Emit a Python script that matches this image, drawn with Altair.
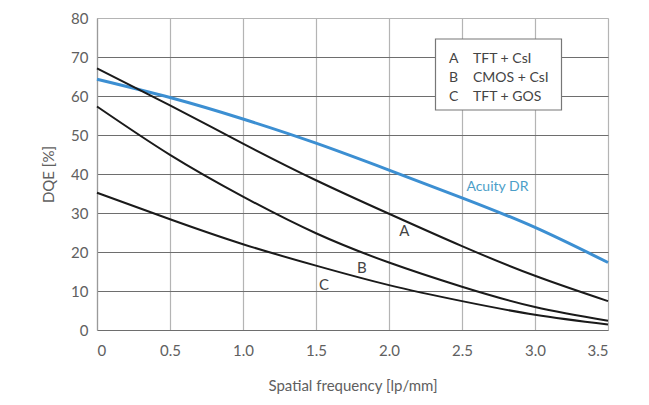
import altair as alt
import pandas as pd

freq = [0, 0.5, 1.0, 1.5, 2.0, 2.5, 3.0, 3.5]
acuity = [64.3, 59.6, 54.1, 47.9, 41.0, 33.9, 26.3, 17.3]
tft_csi = [67.1, 57.6, 47.8, 38.4, 29.8, 21.5, 13.9, 7.4]
cmos_csi = [57.3, 44.9, 34.2, 24.8, 17.3, 11.1, 5.9, 2.4]
tft_gos = [35.2, 28.4, 22.0, 16.5, 11.5, 7.4, 3.9, 1.4]

series_names = ["Acuity DR", "A", "B", "C"]
series_values = [acuity, tft_csi, cmos_csi, tft_gos]
series_colors = ["#3c8fd2", "#1a1a1a", "#1a1a1a", "#1a1a1a"]
series_widths = [3, 2, 2, 2]

label_text = ["Acuity DR", "A", "B", "C"]
label_x = [2.53, 2.07, 1.78, 1.52]
label_y = [36.6, 25.3, 16.0, 11.6]
label_color = ["#4b9ec8", "#444444", "#444444", "#444444"]
label_size = [14, 15, 15, 15]

legend_keys = ["A", "B", "C"]
legend_names = ["TFT + CsI", "CMOS + CsI", "TFT + GOS"]

FONT = "Lato"

rows = []
for n, vals in zip(series_names, series_values):
    for f, v in zip(freq, vals):
        rows.append({"series": n, "freq": f, "dqe": v})
df = pd.DataFrame(rows)

xscale = alt.Scale(domain=[0, 3.5], nice=False, zero=False)
yscale = alt.Scale(domain=[0, 80], nice=False)

x_enc = alt.X(
    "freq:Q", scale=xscale,
    axis=alt.Axis(
        values=[0, 0.5, 1, 1.5, 2, 2.5, 3, 3.5],
        labelExpr="datum.value == 0 ? '0' : format(datum.value, '.1f')",
        title="Spatial frequency [lp/mm]",
        grid=True, gridColor="#b4b4b4", gridWidth=1.2,
        ticks=False, domain=False, labelOverlap=False,
        labelFont=FONT, labelFontSize=15, labelColor="#606060",
        labelPadding=13,
        titleFont=FONT, titleFontSize=15, titleFontWeight="normal", titleColor="#606060",
        titlePadding=20,
    ),
)
y_enc = alt.Y(
    "dqe:Q", scale=yscale,
    axis=alt.Axis(
        values=list(range(0, 81, 10)),
        title="DQE [%]",
        grid=True,
        gridColor={"condition": {"test": "datum.value == 80", "value": "#b4b4b4"}, "value": "#6e6e6e"},
        gridWidth=1.2,
        ticks=False, domain=True, domainColor="#9a9a9a", domainWidth=1.2,
        labelOverlap=False,
        labelFont=FONT, labelFontSize=15, labelColor="#606060",
        labelPadding=9,
        titleFont=FONT, titleFontSize=15, titleFontWeight="normal", titleColor="#606060",
        titlePadding=14,
    ),
)

layers = []
for n, c, w in zip(series_names, series_colors, series_widths):
    layers.append(
        alt.Chart(df[df.series == n]).mark_line(
            color=c, strokeWidth=w, interpolate="natural"
        ).encode(x=x_enc, y=y_enc)
    )

for t, lx, ly, c, s in zip(label_text, label_x, label_y, label_color, label_size):
    layers.append(
        alt.Chart(pd.DataFrame({"t": [t], "freq": [lx], "dqe": [ly]})).mark_text(
            align="left", baseline="middle", font=FONT, fontSize=s, color=c
        ).encode(x=x_enc, y=y_enc, text="t:N")
    )

# legend box (pixel positions inside plot area)
layers.append(
    alt.Chart(pd.DataFrame({"k": [0]})).mark_rect(
        fill="white", stroke="#777777", strokeWidth=1.2
    ).encode(x=alt.value(338.5), x2=alt.value(464.5), y=alt.value(21), y2=alt.value(92))
)
for i, (k, nme) in enumerate(zip(legend_keys, legend_names)):
    yy = 40.5 + i * 19
    layers.append(
        alt.Chart(pd.DataFrame({"t": [k]})).mark_text(
            align="left", baseline="middle", font=FONT, fontSize=14, color="#444444"
        ).encode(x=alt.value(352), y=alt.value(yy), text="t:N")
    )
    layers.append(
        alt.Chart(pd.DataFrame({"t": [nme]})).mark_text(
            align="left", baseline="middle", font=FONT, fontSize=14, color="#444444"
        ).encode(x=alt.value(376), y=alt.value(yy), text="t:N")
    )

chart = alt.layer(*layers).properties(
    width=511, height=312,
    autosize=alt.AutoSizeParams(type="none"),
    padding={"left": 89, "top": 10, "right": 30, "bottom": 70},
).configure_view(stroke=None).configure(background="white")

chart.save("out.html", embed_options={"renderer": "svg", "actions": False})
